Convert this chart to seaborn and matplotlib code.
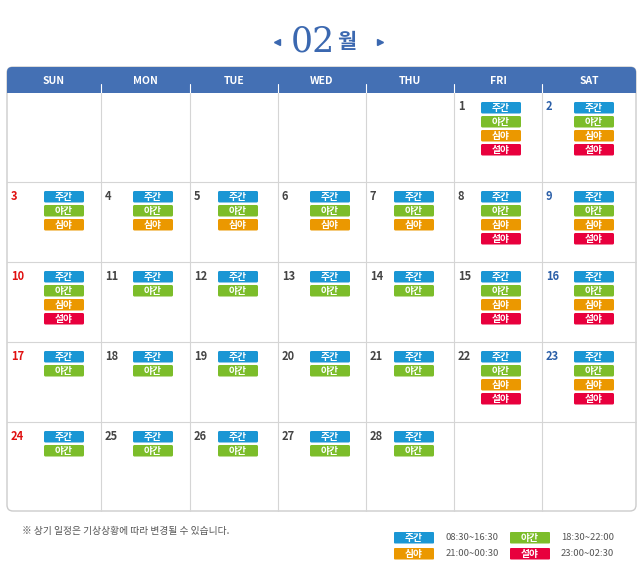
import matplotlib
matplotlib.use("Agg")
import matplotlib.pyplot as plt
from matplotlib.patches import FancyBboxPatch, Rectangle
import seaborn as sns

sns.set_style("white")
plt.rcParams["font.family"] = "Noto Sans CJK KR"

# data
month_label = "02"
weekdays = ["SUN", "MON", "TUE", "WED", "THU", "FRI", "SAT"]
first_weekday = 5  # Feb 1 is a Friday
days = list(range(1, 29))
shift_counts = [4, 4, 3, 3, 3, 3, 3, 4, 4, 4, 2, 2, 2, 2, 4, 4,
                2, 2, 2, 2, 2, 4, 4, 2, 2, 2, 2, 2]
shift_names = ["주간", "야간", "심야", "설야"]
shift_times = ["08:30~16:30", "18:30~22:00", "21:00~00:30", "23:00~02:30"]
shift_colors = ["#1a96d4", "#7cbd2a", "#eb9800", "#e8003d"]
note = "※ 상기 일정은 기상상황에 따라 변경될 수 있습니다."

# layout (pixels)
col_edges = [7, 101, 190, 278, 366, 454, 542, 636]
row_edges = [93, 182, 262, 342, 422, 511]
badge_off = [37, 32, 28, 32, 28, 27, 32]
header_top = 67
header_color = "#4470b4"

fig = plt.figure(figsize=(6.4, 5.76), dpi=100)
ax = fig.add_axes([0, 0, 1, 1])
ax.set_xlim(0, 640)
ax.set_ylim(576, 0)
ax.axis("off")

# title
ax.text(313, 42, month_label, ha="center", va="center", fontsize=25,
        color="#3b68b0", family="DejaVu Serif")
ax.text(337, 42, "월", ha="left", va="center", fontsize=15,
        color="#3b68b0", fontweight="bold")
ax.plot([277], [42], marker="<", ms=4, color="#3b68b0")
ax.plot([380], [42], marker=">", ms=4, color="#3b68b0")

# table frame
ax.add_patch(FancyBboxPatch((col_edges[0], header_top), col_edges[-1] - col_edges[0],
                            row_edges[-1] - header_top, boxstyle="round,pad=0,rounding_size=6",
                            fc="white", ec="#cccccc", lw=1))
ax.add_patch(FancyBboxPatch((col_edges[0], header_top), col_edges[-1] - col_edges[0],
                            row_edges[0] - header_top, boxstyle="round,pad=0,rounding_size=5",
                            fc=header_color, ec=header_color, lw=0))
ax.add_patch(Rectangle((col_edges[0], header_top + 10), col_edges[-1] - col_edges[0],
                       row_edges[0] - header_top - 10, fc=header_color, lw=0))
for i, d in enumerate(weekdays):
    ax.text((col_edges[i] + col_edges[i + 1]) / 2, 81, d, ha="center", va="center",
            fontsize=7.5, color="white", fontweight="bold")
for x in col_edges[1:-1]:
    ax.plot([x, x], [84, 93], color="white", lw=0.8)
    ax.plot([x, x], [93, row_edges[-1]], color="#d5d5d5", lw=0.8)
for y in row_edges[1:-1]:
    ax.plot([col_edges[0], col_edges[-1]], [y, y], color="#d5d5d5", lw=0.8)


def badge(x, y, name, color):
    ax.add_patch(FancyBboxPatch((x, y), 40, 11.5, boxstyle="round,pad=0,rounding_size=1.5",
                                fc=color, ec="none"))
    ax.text(x + 20, y + 6, name, ha="center", va="center", fontsize=7,
            color="white", fontweight="bold")


for day, n in zip(days, shift_counts):
    pos = first_weekday + day - 1
    r, c = divmod(pos, 7)
    x0, y0 = col_edges[c], row_edges[r]
    color = "#e01010" if c == 0 else ("#2b5fa8" if c == 6 else "#444444")
    ax.text(x0 + 4, y0 + 14, str(day), ha="left", va="center", fontsize=8,
            color=color, fontweight="bold")
    for k in range(n):
        badge(x0 + badge_off[c], y0 + 9 + k * 14, shift_names[k], shift_colors[k])

# footer
ax.text(22, 531, note, ha="left", va="center", fontsize=7, color="#555555")
legend_x = [394, 510]
legend_y = [532, 548]
for k in range(4):
    lx, ly = legend_x[k % 2], legend_y[k // 2]
    ax.add_patch(FancyBboxPatch((lx, ly), 40, 11.5, boxstyle="round,pad=0,rounding_size=1",
                                fc=shift_colors[k], ec="none"))
    ax.text(lx + 20, ly + 6, shift_names[k], ha="center", va="center", fontsize=7,
            color="white", fontweight="bold")
    ax.text(lx + 52 - (k % 2) * 1, ly + 6, shift_times[k], ha="left", va="center",
            fontsize=6.8, color="#555555")

fig.savefig("out.png", dpi=100)
